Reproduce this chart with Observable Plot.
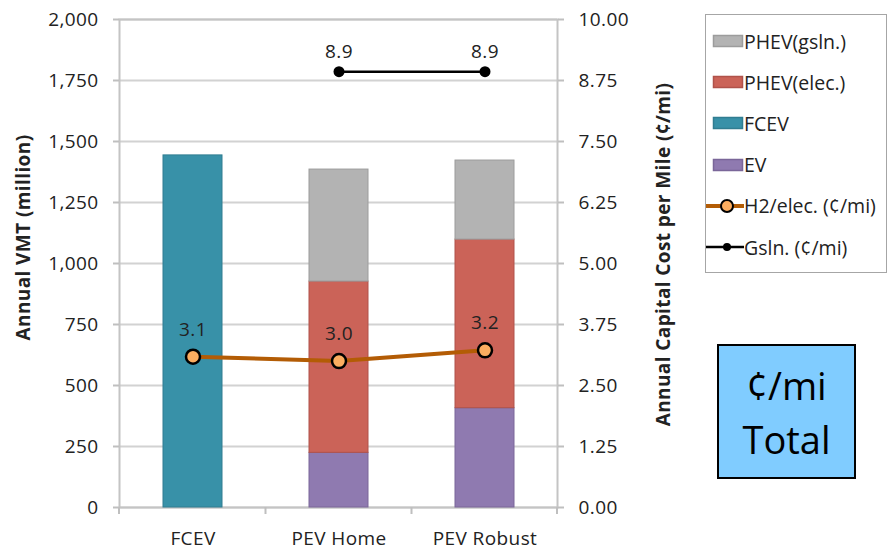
<!DOCTYPE html>
<html>
<head>
<meta charset="utf-8">
<script src="https://cdn.jsdelivr.net/npm/d3@7"></script>
<script src="https://cdn.jsdelivr.net/npm/@observablehq/plot@0.6"></script>
<style>
  body { margin: 0; background: #fff; font-family: "Open Sans", sans-serif; }
  #wrap { position: relative; width: 887px; height: 550px; overflow: hidden; }
  #legend { position: absolute; left: 705px; top: 14px; width: 182px; height: 259px; border: 1px solid #a6a6a6; box-sizing: border-box; background: #fff; }
  .item { position: absolute; left: 0px; height: 20px; display: flex; align-items: center; font-size: 19.5px; color: #222; white-space: nowrap; }
  .item svg { margin-right: 0px; }
  #note { position: absolute; left: 717px; top: 344px; width: 139px; height: 135px; box-sizing: border-box; border: 2px solid #000; background: #80ccff; display: flex; flex-direction: column; align-items: center; justify-content: center; font-size: 38px; line-height: 54px; color: #000; }
</style>
</head>
<body>
<div id="wrap"></div>
<script>
// ---- data ----
const categories = ["FCEV", "PEV Home", "PEV Robust"];
const seriesNames = ["EV", "PHEV(elec.)", "FCEV", "PHEV(gsln.)"]; // stacking order, bottom to top
const evVMT = [0, 224, 407];
const phevElecVMT = [0, 702, 691];
const fcevVMT = [1443, 0, 0];
const phevGslnVMT = [0, 459, 324];
const h2ElecCost = [3.09, 3.0, 3.22];           // ¢/mi
const gslnCategories = ["PEV Home", "PEV Robust"];
const gslnCost = [8.93, 8.93];                    // ¢/mi
const leftTicks = [0, 250, 500, 750, 1000, 1250, 1500, 1750, 2000];
const vmtMax = 2000;
const costMax = 10;
const legendOrder = ["PHEV(gsln.)", "PHEV(elec.)", "FCEV", "EV"];
const lineLegend = ["H2/elec. (¢/mi)", "Gsln. (¢/mi)"];
const noteLines = ["¢/mi", "Total"];

const colors = {"EV": "#8f7ab0", "PHEV(elec.)": "#cb6358", "FCEV": "#3891a8", "PHEV(gsln.)": "#b3b3b3"};
const edges = {"EV": "#7a6699", "PHEV(elec.)": "#b0524a", "FCEV": "#307d91", "PHEV(gsln.)": "#9c9c9c"};
const ratio = vmtMax / costMax;

const seriesValues = {"EV": evVMT, "PHEV(elec.)": phevElecVMT, "FCEV": fcevVMT, "PHEV(gsln.)": phevGslnVMT};
const bars = [];
for (const s of seriesNames) categories.forEach((c, i) => { if (seriesValues[s][i] > 0) bars.push({cat: c, series: s, v: seriesValues[s][i]}); });
const h2 = categories.map((c, i) => ({cat: c, v: h2ElecCost[i]}));
const gs = gslnCategories.map((c, i) => ({cat: c, v: gslnCost[i]}));

// ticks at the category boundaries on the x axis
const boundaryTicks = (index, scales, values, dims) => {
  const x = scales.x, bw = x.bandwidth();
  const y0 = dims.height - dims.marginBottom;
  const xs = [dims.marginLeft];
  for (let i = 0; i < categories.length - 1; i++) xs.push((x(categories[i]) + x(categories[i + 1])) / 2 + bw / 2);
  xs.push(dims.width - dims.marginRight);
  const g = d3.create("svg:g");
  g.selectAll("line").data(xs).join("line")
    .attr("x1", d => d).attr("x2", d => d).attr("y1", y0).attr("y2", y0 + 7)
    .attr("stroke", "#bfbfbf").attr("stroke-width", 2);
  return g.node();
};

const plot = Plot.plot({
  width: 887,
  height: 550,
  marginLeft: 119,
  marginRight: 330,
  marginTop: 19,
  marginBottom: 43,
  style: {fontFamily: "'Open Sans', sans-serif", fontSize: "19px", letterSpacing: "0.4px", color: "#222", background: "#fff"},
  x: {domain: categories, paddingInner: 0.596, paddingOuter: 0.298, label: null},
  y: {domain: [0, vmtMax], label: null},
  marks: [
    Plot.gridY(leftTicks, {stroke: "#d2d2d2", strokeOpacity: 1, strokeWidth: 2}),
    Plot.frame({stroke: "#c4c4c4", strokeWidth: 2}),
    Plot.axisY(leftTicks, {anchor: "left", tickFormat: d3.format(","), tickSize: 6, tickPadding: 15, stroke: "#bfbfbf", strokeWidth: 2, fill: "#222", fontSize: 19, label: null}),
    Plot.axisY(leftTicks, {anchor: "right", tickFormat: d => (d / ratio).toFixed(2), tickSize: 6, tickPadding: 15, stroke: "#bfbfbf", strokeWidth: 2, fill: "#222", fontSize: 19, label: null}),
    Plot.axisX({tickSize: 0, tickPadding: 24, fill: "#222", fontSize: 19, label: null}),
    boundaryTicks,
    Plot.barY(bars, Plot.stackY({order: seriesNames, x: "cat", y: "v", z: "series", fill: d => colors[d.series], stroke: d => edges[d.series], strokeWidth: 1, inset: 0})),
    Plot.line(h2, {x: "cat", y: d => d.v * ratio, stroke: "#b35c05", strokeWidth: 4}),
    Plot.dot(h2, {x: "cat", y: d => d.v * ratio, r: 7, fill: "#fbad60", stroke: "#000", strokeWidth: 2.5}),
    Plot.text(h2, {x: "cat", y: d => d.v * ratio, text: d => d.v.toFixed(1), dy: -27, fill: "#222", fontSize: 19}),
    Plot.line(gs, {x: "cat", y: d => d.v * ratio, stroke: "#000", strokeWidth: 2.5}),
    Plot.dot(gs, {x: "cat", y: d => d.v * ratio, r: 5.5, fill: "#000"}),
    Plot.text(gs, {x: "cat", y: d => d.v * ratio, text: d => d.v.toFixed(1), dy: -20, fill: "#222", fontSize: 19}),
    Plot.text(["Annual VMT (million)"], {frameAnchor: "left", rotate: -90, dx: -96, dy: -26, text: d => d, textAnchor: "middle", lineAnchor: "middle", fontWeight: "bold", fontSize: 19, letterSpacing: "1.2px", fill: "#222"}),
    Plot.text(["Annual Capital Cost per Mile (¢/mi)"], {frameAnchor: "right", rotate: -90, dx: 106, dy: -9, text: d => d, textAnchor: "middle", lineAnchor: "middle", fontWeight: "bold", fontSize: 19, fill: "#222"})
  ]
});

const wrap = document.getElementById("wrap");
wrap.appendChild(plot);

// legend
const legend = document.createElement("div");
legend.id = "legend";
const items = [
  ...legendOrder.map(s => ({label: s, kind: "rect", fill: colors[s], stroke: edges[s]})),
  {label: lineLegend[0], kind: "line", stroke: "#b35c05", sw: 4, r: 7, fill: "#fbad60", dotStroke: "#000"},
  {label: lineLegend[1], kind: "line", stroke: "#000", sw: 2.5, r: 5, fill: "#000", dotStroke: "none"}
];
items.forEach((it, i) => {
  const d = document.createElement("div");
  d.className = "item";
  d.style.top = (16 + i * 41.2) + "px";
  let sw;
  if (it.kind === "rect") {
    sw = `<svg width="38" height="16"><rect x="7.5" y="2.5" width="29" height="11" fill="${it.fill}" stroke="${it.stroke}" stroke-width="1.5"/></svg>`;
  } else {
    sw = `<svg width="38" height="18"><line x1="0" x2="38" y1="9" y2="9" stroke="${it.stroke}" stroke-width="${it.sw}"/><circle cx="21" cy="9" r="${it.r - 1}" fill="${it.fill}" stroke="${it.dotStroke}" stroke-width="2"/></svg>`;
  }
  d.innerHTML = sw + `<span>${it.label}</span>`;
  legend.appendChild(d);
});
wrap.appendChild(legend);

const note = document.createElement("div");
note.id = "note";
note.innerHTML = noteLines.map(t => `<div>${t}</div>`).join("");
wrap.appendChild(note);
</script>
</body>
</html>
